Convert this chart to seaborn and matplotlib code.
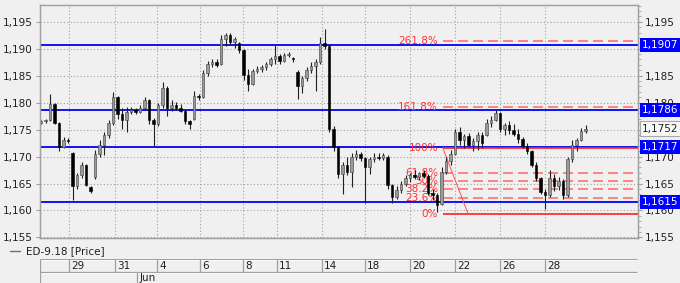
import matplotlib
matplotlib.use("Agg")
import matplotlib.pyplot as plt
import numpy as np
import pandas as pd
import seaborn as sns
from matplotlib.ticker import FuncFormatter, MultipleLocator

# ---------------- data ----------------
opens = [1.1763, 1.1765, 1.1768, 1.1797, 1.1762, 1.1718, 1.1731, 1.1706, 1.1645, 1.1665,
         1.1684, 1.1643, 1.1662, 1.1705, 1.1722, 1.1740, 1.1762, 1.1810, 1.1778, 1.1768,
         1.1783, 1.1786, 1.1782, 1.1790, 1.1805, 1.1768, 1.1760, 1.1795, 1.1828, 1.1790,
         1.1796, 1.1790, 1.1785, 1.1765, 1.1770, 1.1812, 1.1810, 1.1855, 1.1872, 1.1876,
         1.1872, 1.1918, 1.1925, 1.1912, 1.1910, 1.1898, 1.1852, 1.1835, 1.1858, 1.1862,
         1.1866, 1.1872, 1.1880, 1.1886, 1.1878, 1.1889, 1.1882, 1.1856, 1.1830, 1.1845,
         1.1860, 1.1868, 1.1875, 1.1910, 1.1905, 1.1752, 1.1718, 1.1668, 1.1684, 1.1672,
         1.1700, 1.1705, 1.1697, 1.1680, 1.1695, 1.1700, 1.1698, 1.1700, 1.1648, 1.1625,
         1.1638, 1.1650, 1.1660, 1.1665, 1.1662, 1.1670, 1.1664, 1.1632, 1.1628, 1.1612,
         1.1672, 1.1692, 1.1705, 1.1745, 1.1730, 1.1738, 1.1722, 1.1728, 1.1740, 1.1740,
         1.1762, 1.1768, 1.1780, 1.1752, 1.1758, 1.1750, 1.1742, 1.1732, 1.1720, 1.1710,
         1.1685, 1.1660, 1.1635, 1.1628, 1.1660, 1.1645, 1.1655, 1.1628, 1.1695, 1.1722,
         1.1730, 1.1748]
highs = [1.1767, 1.1769, 1.1816, 1.1799, 1.1764, 1.1736, 1.1735, 1.1708, 1.1670, 1.1689,
         1.1686, 1.1646, 1.1712, 1.1730, 1.1745, 1.1768, 1.1819, 1.1812, 1.1790, 1.1792,
         1.1792, 1.1790, 1.1795, 1.1811, 1.1807, 1.1772, 1.1800, 1.1838, 1.1830, 1.1804,
         1.1802, 1.1798, 1.1787, 1.1768, 1.1822, 1.1816, 1.1860, 1.1878, 1.1881, 1.1880,
         1.1925, 1.1930, 1.1930, 1.1922, 1.1912, 1.1900, 1.1862, 1.1862, 1.1868, 1.1870,
         1.1875, 1.1884, 1.1907, 1.1890, 1.1892, 1.1894, 1.1884, 1.1860, 1.1850, 1.1866,
         1.1875, 1.1880, 1.1922, 1.1937, 1.1908, 1.1756, 1.1720, 1.1690, 1.1700, 1.1706,
         1.1712, 1.1708, 1.1700, 1.1700, 1.1706, 1.1707, 1.1706, 1.1702, 1.1650, 1.1645,
         1.1655, 1.1665, 1.1670, 1.1675, 1.1672, 1.1676, 1.1668, 1.1640, 1.1632, 1.1680,
         1.1700, 1.1712, 1.1752, 1.1755, 1.1742, 1.1744, 1.1735, 1.1745, 1.1746, 1.1770,
         1.1775, 1.1786, 1.1782, 1.1762, 1.1765, 1.1760, 1.1752, 1.1736, 1.1725, 1.1712,
         1.1690, 1.1662, 1.1640, 1.1675, 1.1668, 1.1662, 1.1658, 1.1700, 1.1730, 1.1735,
         1.1753, 1.1758]
lows = [1.1761, 1.1763, 1.1766, 1.1760, 1.1711, 1.1716, 1.1725, 1.1620, 1.1640, 1.1660,
        1.1645, 1.1632, 1.1658, 1.1700, 1.1703, 1.1735, 1.1758, 1.1770, 1.1752, 1.1745,
        1.1778, 1.1779, 1.1780, 1.1786, 1.1760, 1.1720, 1.1756, 1.1790, 1.1776, 1.1784,
        1.1786, 1.1782, 1.1760, 1.1751, 1.1768, 1.1805, 1.1808, 1.1850, 1.1866, 1.1866,
        1.1870, 1.1905, 1.1908, 1.1902, 1.1892, 1.1842, 1.1822, 1.1832, 1.1855, 1.1856,
        1.1860, 1.1868, 1.1872, 1.1872, 1.1876, 1.1884, 1.1876, 1.1807, 1.1818, 1.1840,
        1.1855, 1.1822, 1.1872, 1.1900, 1.1745, 1.1710, 1.1660, 1.1631, 1.1665, 1.1643,
        1.1694, 1.1692, 1.1613, 1.1668, 1.1690, 1.1693, 1.1694, 1.1640, 1.1614, 1.1622,
        1.1632, 1.1645, 1.1652, 1.1658, 1.1656, 1.1660, 1.1628, 1.1620, 1.1597, 1.1610,
        1.1668, 1.1685, 1.1702, 1.1722, 1.1716, 1.1718, 1.1710, 1.1712, 1.1715, 1.1738,
        1.1755, 1.1765, 1.1745, 1.1740, 1.1742, 1.1738, 1.1725, 1.1715, 1.1705, 1.1680,
        1.1655, 1.1630, 1.1603, 1.1625, 1.1636, 1.1638, 1.1622, 1.1625, 1.1690, 1.1710,
        1.1728, 1.1744]
closes = [1.1765, 1.1767, 1.1797, 1.1762, 1.1718, 1.1731, 1.1729, 1.1645, 1.1665, 1.1684,
          1.1648, 1.1636, 1.1705, 1.1722, 1.1740, 1.1762, 1.1810, 1.1778, 1.1768, 1.1783,
          1.1786, 1.1782, 1.1790, 1.1805, 1.1768, 1.1760, 1.1795, 1.1828, 1.1790, 1.1796,
          1.1790, 1.1785, 1.1765, 1.1760, 1.1812, 1.1810, 1.1855, 1.1872, 1.1876, 1.1870,
          1.1918, 1.1925, 1.1912, 1.1918, 1.1898, 1.1852, 1.1835, 1.1858, 1.1862, 1.1866,
          1.1872, 1.1880, 1.1886, 1.1878, 1.1889, 1.1890, 1.1880, 1.1830, 1.1845, 1.1860,
          1.1868, 1.1875, 1.1910, 1.1905, 1.1752, 1.1718, 1.1668, 1.1684, 1.1672, 1.1700,
          1.1705, 1.1697, 1.1680, 1.1695, 1.1700, 1.1698, 1.1703, 1.1648, 1.1625, 1.1638,
          1.1650, 1.1660, 1.1665, 1.1662, 1.1670, 1.1664, 1.1632, 1.1628, 1.1610, 1.1672,
          1.1692, 1.1705, 1.1745, 1.1730, 1.1738, 1.1722, 1.1728, 1.1740, 1.1725, 1.1762,
          1.1768, 1.1780, 1.1752, 1.1758, 1.1750, 1.1742, 1.1732, 1.1720, 1.1710, 1.1685,
          1.1660, 1.1635, 1.1628, 1.1660, 1.1645, 1.1655, 1.1628, 1.1695, 1.1722, 1.1730,
          1.1748, 1.1752]

# date ticks (bar positions) and labels
day_tick_pos = [6.2, 16.4, 25.8, 35.3, 44.9, 52.4, 62.4, 72.0, 82.0, 92.0, 102.0, 112.0]
day_tick_labels = ["29", "31", "4", "6", "8", "11", "14", "18", "20", "22", "26", "28"]
month_pos = [21.3]
month_labels = ["Jun"]

# horizontal support/resistance lines
hlines_levels = [1.1907, 1.1786, 1.1717, 1.1615]
last_price = 1.1752
# right-axis tick values fully covered by the price boxes
right_hidden_ticks = [1.190, 1.175]

# fibonacci retracement
fib_anchor_bars = [89.3, 94.9]
fib_high = 1.1716
fib_low = 1.1594
fib_ratios = [0.0, 23.6, 38.2, 50.0, 61.8, 100.0, 161.8, 261.8]
fib_texts = ["0%", "23.6%", "38.2%", "50%", "61.8%", "100%", "161.8%", "261.8%"]

series_name = "ED-9.18 [Price]"

# ---------------- style ----------------
sns.set_style("white")
plt.rcParams["font.family"] = ["DejaVu Sans"]
BG = "#f0f0f0"
GRAY = "#a0a0a0"

df = pd.DataFrame({"o": opens, "h": highs, "l": lows, "c": closes})
df["i"] = np.arange(len(df))

W, H = 680, 283
fig = plt.figure(figsize=(W / 100, H / 100), dpi=100, facecolor=BG)
L, R, T, B = 40, 638, 5, 238
ax = fig.add_axes([L / W, 1 - B / H, (R - L) / W, (B - T) / H])
ax.set_facecolor(BG)

def px_to_i(px):
    return (px - 41) / 4.5

xlim = (px_to_i(L), px_to_i(R))
ylim = (1.1549, 1.1981)
ax.set_xlim(*xlim)
ax.set_ylim(*ylim)

# grid
for y in np.arange(1.155, 1.1951, 0.005):
    ax.axhline(y, color=GRAY, lw=0.8, ls=(0, (1, 2)), zorder=0.5)
for x in day_tick_pos:
    ax.axvline(x, color=GRAY, lw=0.8, ls=(0, (1, 2)), zorder=0.5)

# blue lines
for lv in hlines_levels:
    ax.axhline(lv, color="#0000ee", lw=1.3, zorder=1.2)

# fib
rng = fib_high - fib_low
for r, t in zip(fib_ratios, fib_texts):
    lv = fib_low + r / 100 * rng
    solid = r in (0.0, 100.0)
    ax.hlines(lv, fib_anchor_bars[0], xlim[1], color="#ff2020" if solid else "#ff7070",
              lw=1.2, ls="-" if solid else (0, (6, 3)), zorder=1.3)
    ax.text(px_to_i(438), lv, t, color="#ff3030", fontsize=7.5, ha="right", va="center",
            zorder=1.4)
fib_df = pd.DataFrame({"x": fib_anchor_bars, "y": [fib_high, fib_low]})
sns.lineplot(data=fib_df, x="x", y="y", ax=ax, color="#ff5050", lw=0.7, zorder=1.3)

# candles
ax.vlines(df["i"], df["l"], df["h"], color="#202020", lw=0.8, zorder=2)
up = df["c"] >= df["o"]
body_bottom = np.minimum(df["o"], df["c"])
body_h = np.maximum(np.abs(df["c"] - df["o"]), 0.00018)
ax.bar(df["i"][up], body_h[up], bottom=body_bottom[up], width=0.45,
       color="#9a9a9a", edgecolor="#404040", lw=0.4, zorder=2.2)
ax.bar(df["i"][~up], body_h[~up], bottom=body_bottom[~up], width=0.45,
       color="#000000", edgecolor="#000000", lw=0.4, zorder=2.2)

# axes formatting (left)
fmt = FuncFormatter(lambda v, p: f"{v:.3f}".replace(".", ","))
ax.yaxis.set_major_locator(MultipleLocator(0.005))
ax.yaxis.set_major_formatter(fmt)
ax.tick_params(axis="y", which="major", left=True, right=False, labelleft=True,
               labelright=False, length=3, width=0.8, color=GRAY, labelsize=7.5,
               pad=2, labelcolor="#202020")
ax.set_xticks([])
ax.set_xlabel("")
ax.set_ylabel("")
for s in ax.spines.values():
    s.set_color(GRAY)
    s.set_linewidth(0.9)


def right_fmt(v, p):
    if any(abs(v - h) < 1e-6 for h in right_hidden_ticks):
        return ""
    return f"{v:.3f}".replace(".", ",")


# right axis
ax2 = ax.twinx()
ax2.set_ylim(*ylim)
ax2.yaxis.set_major_locator(MultipleLocator(0.005))
ax2.yaxis.set_minor_locator(MultipleLocator(0.001))
ax2.yaxis.set_major_formatter(FuncFormatter(right_fmt))
ax2.tick_params(axis="y", which="major", right=True, labelright=True, length=3,
                width=0.8, color=GRAY, labelsize=7.5, pad=2, labelcolor="#202020")
ax2.tick_params(axis="y", which="minor", right=True, length=2, width=0.6, color=GRAY)
ax2.set_ylabel("")
for s in ax2.spines.values():
    s.set_color(GRAY)
    s.set_linewidth(0.9)

# right-hand price boxes (on top of right tick labels)
for lv in hlines_levels:
    ax2.annotate(f"{lv:.4f}".replace(".", ","), xy=(1, lv),
                 xycoords=("axes fraction", "data"), xytext=(3.0, 0),
                 textcoords="offset points", ha="left", va="center", fontsize=7.5,
                 color="white", zorder=10, annotation_clip=False,
                 bbox=dict(boxstyle="square,pad=0.2", fc="#0000ff", ec="none"))
ax2.annotate(f"{last_price:.4f}".replace(".", ","), xy=(1, last_price),
             xycoords=("axes fraction", "data"), xytext=(3.0, 0),
             textcoords="offset points", ha="left", va="center", fontsize=7.5,
             color="#202020", zorder=10, annotation_clip=False,
             bbox=dict(boxstyle="square,pad=0.2", fc="#f8f8f8", ec="#a8a8a8", lw=0.8))

# legend
fig.add_artist(plt.Line2D([10 / W, 20 / W], [1 - 251 / H] * 2, color="#707070", lw=1.0))
fig.text(26 / W, 1 - 251 / H, series_name, fontsize=7.5, va="center", ha="left",
         color="#202020")

# date panel
axd = fig.add_axes([L / W, 0, (R - L) / W, 24 / H])
axd.set_xlim(*xlim)
axd.set_ylim(0, 24)
axd.axis("off")
xr = px_to_i(637)
for yy in (24, 11):
    axd.hlines(yy, xlim[0], xr, color=GRAY, lw=0.9)
    axd.hlines(yy - 0.9, xlim[0], xr, color="white", lw=0.6)
axd.vlines(xlim[0] + 0.1, 0, 24, color=GRAY, lw=0.9)
for x, lab in zip(day_tick_pos, day_tick_labels):
    axd.vlines(x, 11, 24, color=GRAY, lw=0.9)
    axd.text(x + 0.5, 17.3, lab, fontsize=7.5, va="center", ha="left", color="#202020")
for x, lab in zip(month_pos, month_labels):
    axd.vlines(x, 0, 11, color=GRAY, lw=0.9)
    axd.text(x + 0.5, 5.3, lab, fontsize=7.5, va="center", ha="left", color="#202020")

fig.savefig("out.png", dpi=100, facecolor=BG)
